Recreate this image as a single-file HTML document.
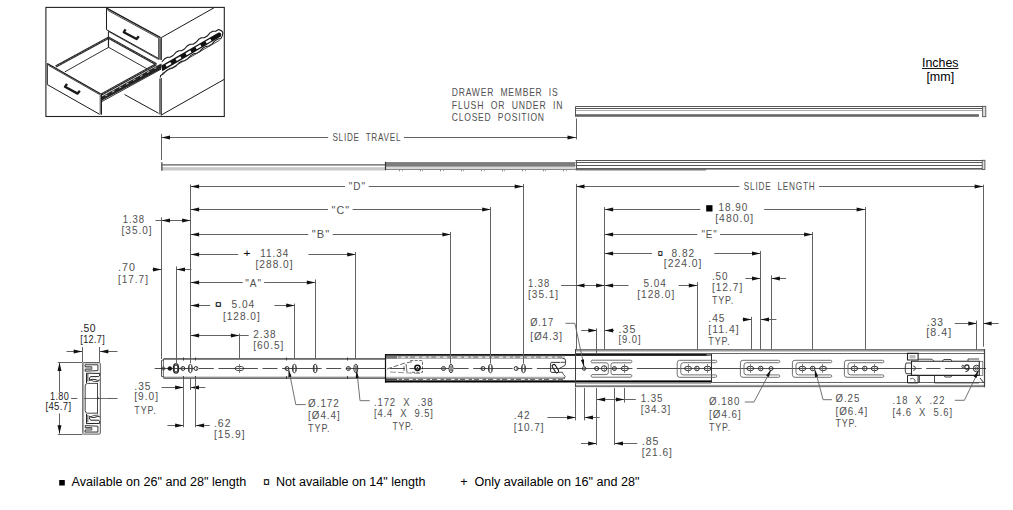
<!DOCTYPE html>
<html><head><meta charset="utf-8"><style>
html,body{margin:0;padding:0;background:#fff;}
svg{display:block;}
text{font-family:"Liberation Sans",sans-serif;white-space:pre;}
</style></head><body>
<svg width="1013" height="510" viewBox="0 0 1013 510">
<rect x="0" y="0" width="1013" height="510" fill="#fff"/>
<rect x="45.90" y="7.40" width="178.40" height="109.10" fill="none" stroke="#222" stroke-width="1.1" />
<polyline points="106.50,8.20 160.60,37.60" fill="none" stroke="#1a1a1a" stroke-width="1.4" />
<polyline points="107.60,10.30 158.80,38.20" fill="none" stroke="#1a1a1a" stroke-width="0.8" />
<polyline points="106.50,8.20 106.50,29.70" fill="none" stroke="#1a1a1a" stroke-width="1.0" />
<polyline points="106.50,29.70 158.80,58.60" fill="none" stroke="#1a1a1a" stroke-width="1.0" />
<polyline points="158.80,38.20 158.80,58.60" fill="none" stroke="#1a1a1a" stroke-width="1.0" />
<rect x="159.00" y="38.20" width="2.20" height="21.60" fill="#777" stroke="none" stroke-width="1" />
<polyline points="161.30,37.60 161.30,60.00" fill="none" stroke="#1a1a1a" stroke-width="1.0" />
<path d="M125.6,29.4 L123.8,32.2 L136.6,39.0 L138.8,36.2" fill="none" stroke="#1a1a1a" stroke-width="2.4" stroke-linejoin="round"/>
<polyline points="161.30,37.60 214.20,7.70" fill="none" stroke="#1a1a1a" stroke-width="1.0" />
<polyline points="161.30,78.00 161.30,115.50" fill="none" stroke="#1a1a1a" stroke-width="1.0" />
<rect x="159.00" y="78.50" width="2.20" height="36.00" fill="#777" stroke="none" stroke-width="1" />
<polyline points="161.30,115.00 224.30,79.30" fill="none" stroke="#1a1a1a" stroke-width="1.0" />
<polyline points="108.40,31.40 108.40,47.30" fill="none" stroke="#1a1a1a" stroke-width="1.0" />
<polyline points="108.40,31.40 158.80,59.60" fill="none" stroke="#1a1a1a" stroke-width="0.8" />
<line x1="55.80" y1="66.60" x2="108.60" y2="37.80" stroke="#1e1e1e" stroke-width="2.3" />
<line x1="55.80" y1="66.60" x2="108.60" y2="37.80" stroke="#fff" stroke-width="0.5" stroke-dasharray="0.9 0.9"/>
<line x1="108.60" y1="37.80" x2="156.30" y2="64.20" stroke="#1e1e1e" stroke-width="2.3" />
<line x1="108.60" y1="37.80" x2="156.30" y2="64.20" stroke="#fff" stroke-width="0.5" stroke-dasharray="0.9 0.9"/>
<polyline points="64.80,71.90 108.60,47.30 150.00,70.50" fill="none" stroke="#1a1a1a" stroke-width="0.9" />
<polyline points="108.60,37.20 108.60,47.30" fill="none" stroke="#1a1a1a" stroke-width="1.0" />
<line x1="101.40" y1="94.40" x2="156.30" y2="64.20" stroke="#1e1e1e" stroke-width="2.3" />
<line x1="101.40" y1="94.40" x2="156.30" y2="64.20" stroke="#fff" stroke-width="0.5" stroke-dasharray="0.9 0.9"/>
<polygon points="101.50,97.00 160.00,64.50 166.00,62.50 166.00,66.00 102.00,100.20" fill="#222" stroke="#111" stroke-width="0.6" />
<polyline points="102.00,101.50 165.00,67.00" fill="none" stroke="#1a1a1a" stroke-width="0.9" />
<rect x="105.00" y="95.65" width="2.50" height="0.80" fill="#ddd" stroke="none" stroke-width="1" transform="rotate(-29 105 95.654)"/>
<rect x="112.00" y="91.76" width="2.50" height="0.80" fill="#ddd" stroke="none" stroke-width="1" transform="rotate(-29 112 91.762)"/>
<rect x="119.00" y="87.87" width="2.50" height="0.80" fill="#ddd" stroke="none" stroke-width="1" transform="rotate(-29 119 87.86999999999999)"/>
<rect x="126.00" y="83.98" width="2.50" height="0.80" fill="#ddd" stroke="none" stroke-width="1" transform="rotate(-29 126 83.978)"/>
<rect x="133.00" y="80.09" width="2.50" height="0.80" fill="#ddd" stroke="none" stroke-width="1" transform="rotate(-29 133 80.08599999999998)"/>
<rect x="140.00" y="76.19" width="2.50" height="0.80" fill="#ddd" stroke="none" stroke-width="1" transform="rotate(-29 140 76.19399999999999)"/>
<rect x="147.00" y="72.30" width="2.50" height="0.80" fill="#ddd" stroke="none" stroke-width="1" transform="rotate(-29 147 72.30199999999999)"/>
<rect x="154.00" y="68.41" width="2.50" height="0.80" fill="#ddd" stroke="none" stroke-width="1" transform="rotate(-29 154 68.41)"/>
<polyline points="124.50,94.50 158.60,113.30" fill="none" stroke="#1a1a1a" stroke-width="1.0" />
<polyline points="47.30,63.50 100.80,94.00" fill="none" stroke="#1a1a1a" stroke-width="1.4" />
<polyline points="48.50,65.40 99.60,94.60" fill="none" stroke="#1a1a1a" stroke-width="0.8" />
<polyline points="47.30,63.50 47.30,84.60" fill="none" stroke="#1a1a1a" stroke-width="1.0" />
<polyline points="47.30,84.60 99.60,114.30" fill="none" stroke="#1a1a1a" stroke-width="1.0" />
<rect x="99.60" y="94.20" width="1.90" height="20.30" fill="#777" stroke="none" stroke-width="1" />
<polyline points="101.50,94.00 101.50,114.60" fill="none" stroke="#1a1a1a" stroke-width="1.0" />
<path d="M67.0,83.8 L65.0,86.8 L77.6,93.6 L79.8,90.8" fill="none" stroke="#1a1a1a" stroke-width="2.4" stroke-linejoin="round"/>
<path d="M161.8,62.0 L164.6,58.8 L167.5,57.2 L170.3,57.1 L173.1,55.5 L176.0,52.3 L178.8,50.7 L181.6,50.7 L184.5,49.0 L187.3,45.8 L190.2,44.2 L193.0,44.2 L195.8,42.6 L198.7,39.3 L201.5,37.7 L204.3,37.7 L207.2,36.1 L210.0,32.9 L212.8,31.2 L215.7,31.2 L218.5,29.6 Q223.2,30.5 222.8,33.5 Q222.5,36.5 220.8,38.6 L220.8,38.6 L217.8,39.0 L214.8,40.9 L211.8,44.1 L208.8,46.0 L205.8,46.4 L202.7,48.3 L199.7,51.5 L196.7,53.4 L193.7,53.8 L190.7,55.6 L187.7,58.9 L184.7,60.7 L181.7,61.2 L178.7,63.0 L175.7,66.3 L172.6,68.1 L169.6,68.6 L166.6,70.4 L163.6,73.7 L160.6,75.5 L160.3,77.5" fill="#fff" stroke="#1a1a1a" stroke-width="1.1" stroke-linejoin="round"/>
<path d="M161.4,65.4 L218.6,32.6 Q221.4,32.4 221.2,34.6 L220.8,36.4 L162.2,71.2 Z" fill="#111" stroke="none" stroke-width="1" />
<path d="M162,73.6 L219.6,40.2" fill="none" stroke="#333" stroke-width="0.9" />
<rect x="-2.8" y="-1.2" width="5.6" height="2.4" fill="#fff" transform="translate(168.5 64.4) rotate(-30)"/>
<rect x="-2.8" y="-1.2" width="5.6" height="2.4" fill="#fff" transform="translate(178.5 58.6) rotate(-30)"/>
<rect x="-2.8" y="-1.2" width="5.6" height="2.4" fill="#fff" transform="translate(188.5 52.8) rotate(-30)"/>
<rect x="-2.8" y="-1.2" width="5.6" height="2.4" fill="#fff" transform="translate(198.5 46.9) rotate(-30)"/>
<rect x="-2.8" y="-1.2" width="5.6" height="2.4" fill="#fff" transform="translate(208.5 41.1) rotate(-30)"/>
<rect x="575.70" y="106.30" width="409.80" height="10.20" fill="#fff" stroke="none" stroke-width="1" />
<line x1="575.70" y1="106.50" x2="985.50" y2="106.50" stroke="#555" stroke-width="1" />
<line x1="575.70" y1="108.50" x2="982.60" y2="108.50" stroke="#555" stroke-width="1" />
<line x1="575.70" y1="110.50" x2="982.60" y2="110.50" stroke="#aaa" stroke-width="1" />
<rect x="575.70" y="114.20" width="403.20" height="2.60" fill="#666" stroke="none" stroke-width="1" />
<line x1="575.50" y1="106.30" x2="575.50" y2="116.80" stroke="#555" stroke-width="1" />
<rect x="982.60" y="106.30" width="3.20" height="10.40" fill="#ddd" stroke="#555" stroke-width="0.9" />
<rect x="161.30" y="164.30" width="224.00" height="1.20" fill="#555" stroke="none" stroke-width="1" />
<rect x="161.30" y="167.20" width="224.00" height="3.30" fill="#c8c8c8" stroke="none" stroke-width="1" />
<rect x="161.00" y="162.30" width="1.60" height="8.40" fill="#666" stroke="none" stroke-width="1" />
<rect x="385.10" y="162.10" width="190.40" height="4.60" fill="#7c7c7c" stroke="none" stroke-width="1" />
<rect x="385.10" y="167.00" width="190.40" height="2.60" fill="#d8d8d8" stroke="none" stroke-width="1" />
<line x1="385.10" y1="169.50" x2="575.50" y2="169.50" stroke="#888" stroke-width="1" />
<line x1="385.50" y1="161.80" x2="385.50" y2="170.20" stroke="#333" stroke-width="1.2" />
<rect x="575.60" y="160.10" width="409.00" height="9.60" fill="#fff" stroke="none" stroke-width="1" />
<line x1="575.60" y1="160.50" x2="984.60" y2="160.50" stroke="#555" stroke-width="1" />
<line x1="575.60" y1="162.50" x2="982.20" y2="162.50" stroke="#5a5a5a" stroke-width="1" />
<line x1="575.60" y1="165.50" x2="982.20" y2="165.50" stroke="#5a5a5a" stroke-width="1" />
<rect x="575.60" y="168.00" width="409.00" height="1.60" fill="#606060" stroke="none" stroke-width="1" />
<rect x="575.60" y="169.40" width="130.50" height="1.00" fill="#555" stroke="none" stroke-width="1" />
<line x1="576.50" y1="160.10" x2="576.50" y2="169.90" stroke="#555" stroke-width="1" />
<rect x="982.20" y="160.30" width="2.70" height="9.20" fill="#ddd" stroke="#555" stroke-width="0.9" />
<line x1="399.50" y1="169.80" x2="399.50" y2="171.30" stroke="#888" stroke-width="1" />
<line x1="402.50" y1="169.80" x2="402.50" y2="171.30" stroke="#aaa" stroke-width="1" />
<line x1="420.50" y1="169.80" x2="420.50" y2="171.30" stroke="#888" stroke-width="1" />
<line x1="422.50" y1="169.80" x2="422.50" y2="171.30" stroke="#aaa" stroke-width="1" />
<line x1="440.50" y1="169.80" x2="440.50" y2="171.30" stroke="#888" stroke-width="1" />
<line x1="443.50" y1="169.80" x2="443.50" y2="171.30" stroke="#aaa" stroke-width="1" />
<line x1="461.50" y1="169.80" x2="461.50" y2="171.30" stroke="#888" stroke-width="1" />
<line x1="463.50" y1="169.80" x2="463.50" y2="171.30" stroke="#aaa" stroke-width="1" />
<line x1="481.50" y1="169.80" x2="481.50" y2="171.30" stroke="#888" stroke-width="1" />
<line x1="484.50" y1="169.80" x2="484.50" y2="171.30" stroke="#aaa" stroke-width="1" />
<line x1="502.50" y1="169.80" x2="502.50" y2="171.30" stroke="#888" stroke-width="1" />
<line x1="504.50" y1="169.80" x2="504.50" y2="171.30" stroke="#aaa" stroke-width="1" />
<line x1="522.50" y1="169.80" x2="522.50" y2="171.30" stroke="#888" stroke-width="1" />
<line x1="525.50" y1="169.80" x2="525.50" y2="171.30" stroke="#aaa" stroke-width="1" />
<line x1="543.50" y1="169.80" x2="543.50" y2="171.30" stroke="#888" stroke-width="1" />
<line x1="545.50" y1="169.80" x2="545.50" y2="171.30" stroke="#aaa" stroke-width="1" />
<line x1="563.50" y1="169.80" x2="563.50" y2="171.30" stroke="#888" stroke-width="1" />
<line x1="566.50" y1="169.80" x2="566.50" y2="171.30" stroke="#aaa" stroke-width="1" />
<rect x="163.40" y="358.00" width="222.00" height="1.80" fill="#6a6a6a" stroke="none" stroke-width="1" />
<defs><linearGradient id="gb" x1="0" y1="0" x2="0" y2="1"><stop offset="0" stop-color="#d0d0d0"/><stop offset="0.5" stop-color="#8a8a8a"/><stop offset="1" stop-color="#505050"/></linearGradient><linearGradient id="gt" x1="0" y1="0" x2="0" y2="1"><stop offset="0" stop-color="#505050"/><stop offset="1" stop-color="#b0b0b0"/></linearGradient></defs>
<rect x="163.40" y="376.30" width="222.00" height="2.60" fill="url(#gb)" stroke="none" stroke-width="1" />
<path d="M164.2,359.6 L161.6,360.4 L161.6,376.4 L164.2,377.2" fill="none" stroke="#444" stroke-width="1.0" />
<line x1="163.50" y1="359.50" x2="163.50" y2="377.00" stroke="#555" stroke-width="0.8" />
<rect x="385.00" y="354.10" width="326.00" height="1.70" fill="#000" stroke="none" stroke-width="1" />
<rect x="385.00" y="380.40" width="326.00" height="2.10" fill="#000" stroke="none" stroke-width="1" />
<rect x="385.00" y="355.80" width="180.00" height="3.00" fill="#9a9a9a" stroke="none" stroke-width="1" />
<rect x="385.00" y="376.60" width="180.00" height="3.80" fill="url(#gb)" stroke="none" stroke-width="1" />
<rect x="387.00" y="356.60" width="2.20" height="1.10" fill="#fff" stroke="none" stroke-width="1" />
<rect x="388.00" y="378.90" width="2.00" height="1.00" fill="#fff" stroke="none" stroke-width="1" />
<rect x="394.00" y="356.60" width="4.20" height="1.10" fill="#fff" stroke="none" stroke-width="1" />
<rect x="395.00" y="378.90" width="3.60" height="1.00" fill="#fff" stroke="none" stroke-width="1" />
<rect x="401.00" y="356.60" width="4.20" height="1.10" fill="#fff" stroke="none" stroke-width="1" />
<rect x="402.00" y="378.90" width="2.00" height="1.00" fill="#fff" stroke="none" stroke-width="1" />
<rect x="408.00" y="356.60" width="2.20" height="1.10" fill="#fff" stroke="none" stroke-width="1" />
<rect x="409.00" y="378.90" width="3.60" height="1.00" fill="#fff" stroke="none" stroke-width="1" />
<rect x="415.00" y="356.60" width="4.20" height="1.10" fill="#fff" stroke="none" stroke-width="1" />
<rect x="416.00" y="378.90" width="2.00" height="1.00" fill="#fff" stroke="none" stroke-width="1" />
<rect x="422.00" y="356.60" width="4.20" height="1.10" fill="#fff" stroke="none" stroke-width="1" />
<rect x="423.00" y="378.90" width="3.60" height="1.00" fill="#fff" stroke="none" stroke-width="1" />
<rect x="429.00" y="356.60" width="2.20" height="1.10" fill="#fff" stroke="none" stroke-width="1" />
<rect x="430.00" y="378.90" width="2.00" height="1.00" fill="#fff" stroke="none" stroke-width="1" />
<rect x="436.00" y="356.60" width="4.20" height="1.10" fill="#fff" stroke="none" stroke-width="1" />
<rect x="437.00" y="378.90" width="3.60" height="1.00" fill="#fff" stroke="none" stroke-width="1" />
<rect x="443.00" y="356.60" width="4.20" height="1.10" fill="#fff" stroke="none" stroke-width="1" />
<rect x="444.00" y="378.90" width="2.00" height="1.00" fill="#fff" stroke="none" stroke-width="1" />
<rect x="450.00" y="356.60" width="2.20" height="1.10" fill="#fff" stroke="none" stroke-width="1" />
<rect x="451.00" y="378.90" width="3.60" height="1.00" fill="#fff" stroke="none" stroke-width="1" />
<rect x="457.00" y="356.60" width="4.20" height="1.10" fill="#fff" stroke="none" stroke-width="1" />
<rect x="458.00" y="378.90" width="2.00" height="1.00" fill="#fff" stroke="none" stroke-width="1" />
<rect x="464.00" y="356.60" width="4.20" height="1.10" fill="#fff" stroke="none" stroke-width="1" />
<rect x="465.00" y="378.90" width="3.60" height="1.00" fill="#fff" stroke="none" stroke-width="1" />
<rect x="471.00" y="356.60" width="2.20" height="1.10" fill="#fff" stroke="none" stroke-width="1" />
<rect x="472.00" y="378.90" width="2.00" height="1.00" fill="#fff" stroke="none" stroke-width="1" />
<rect x="478.00" y="356.60" width="4.20" height="1.10" fill="#fff" stroke="none" stroke-width="1" />
<rect x="479.00" y="378.90" width="3.60" height="1.00" fill="#fff" stroke="none" stroke-width="1" />
<rect x="485.00" y="356.60" width="4.20" height="1.10" fill="#fff" stroke="none" stroke-width="1" />
<rect x="486.00" y="378.90" width="2.00" height="1.00" fill="#fff" stroke="none" stroke-width="1" />
<rect x="492.00" y="356.60" width="2.20" height="1.10" fill="#fff" stroke="none" stroke-width="1" />
<rect x="493.00" y="378.90" width="3.60" height="1.00" fill="#fff" stroke="none" stroke-width="1" />
<rect x="499.00" y="356.60" width="4.20" height="1.10" fill="#fff" stroke="none" stroke-width="1" />
<rect x="500.00" y="378.90" width="2.00" height="1.00" fill="#fff" stroke="none" stroke-width="1" />
<rect x="506.00" y="356.60" width="4.20" height="1.10" fill="#fff" stroke="none" stroke-width="1" />
<rect x="507.00" y="378.90" width="3.60" height="1.00" fill="#fff" stroke="none" stroke-width="1" />
<rect x="513.00" y="356.60" width="2.20" height="1.10" fill="#fff" stroke="none" stroke-width="1" />
<rect x="514.00" y="378.90" width="2.00" height="1.00" fill="#fff" stroke="none" stroke-width="1" />
<rect x="520.00" y="356.60" width="4.20" height="1.10" fill="#fff" stroke="none" stroke-width="1" />
<rect x="521.00" y="378.90" width="3.60" height="1.00" fill="#fff" stroke="none" stroke-width="1" />
<rect x="527.00" y="356.60" width="4.20" height="1.10" fill="#fff" stroke="none" stroke-width="1" />
<rect x="528.00" y="378.90" width="2.00" height="1.00" fill="#fff" stroke="none" stroke-width="1" />
<rect x="534.00" y="356.60" width="2.20" height="1.10" fill="#fff" stroke="none" stroke-width="1" />
<rect x="535.00" y="378.90" width="3.60" height="1.00" fill="#fff" stroke="none" stroke-width="1" />
<rect x="541.00" y="356.60" width="4.20" height="1.10" fill="#fff" stroke="none" stroke-width="1" />
<rect x="542.00" y="378.90" width="2.00" height="1.00" fill="#fff" stroke="none" stroke-width="1" />
<rect x="548.00" y="356.60" width="4.20" height="1.10" fill="#fff" stroke="none" stroke-width="1" />
<rect x="549.00" y="378.90" width="3.60" height="1.00" fill="#fff" stroke="none" stroke-width="1" />
<rect x="555.00" y="356.60" width="2.20" height="1.10" fill="#fff" stroke="none" stroke-width="1" />
<rect x="556.00" y="378.90" width="2.00" height="1.00" fill="#fff" stroke="none" stroke-width="1" />
<rect x="562.00" y="356.60" width="4.20" height="1.10" fill="#fff" stroke="none" stroke-width="1" />
<rect x="563.00" y="378.90" width="3.60" height="1.00" fill="#fff" stroke="none" stroke-width="1" />
<rect x="385.00" y="355.80" width="12.00" height="2.80" fill="#777" stroke="none" stroke-width="1" />
<rect x="385.00" y="378.80" width="12.00" height="1.40" fill="#444" stroke="none" stroke-width="1" />
<line x1="385.50" y1="354.00" x2="385.50" y2="382.60" stroke="#111" stroke-width="1.2" />
<path d="M562.5,358.2 Q566,358.6 565.7,361 L565.2,365.3 L559,368.6 M560.5,362.4 L565.4,362.2" fill="none" stroke="#333" stroke-width="0.9" />
<path d="M560,362.4 L551.8,362.4 Q550.6,362.4 550.6,363.6 L550.6,371.2 Q550.6,372.4 551.8,372.4 L556,372.4" fill="none" stroke="#222" stroke-width="0.9" />
<rect x="-4.6" y="-1.7" width="9.2" height="3.4" rx="1.7" fill="#fff" stroke="#1a1a1a" stroke-width="1.1" transform="translate(555.4 368.6) rotate(58)"/>
<path d="M558.5,372.6 L562.3,372.1 L563.3,374.3 L565.2,376.4 L564.2,378.4" fill="none" stroke="#444" stroke-width="0.9" />
<rect x="706.50" y="354.10" width="4.80" height="1.70" fill="#888" stroke="none" stroke-width="1" />
<line x1="711.50" y1="353.10" x2="711.50" y2="382.90" stroke="#333" stroke-width="1" />
<path d="M387,369 L405,363 L414,361.5" fill="none" stroke="#444" stroke-width="0.8" stroke-dasharray="5 2"/>
<path d="M390,372 L420,373.5" fill="none" stroke="#777" stroke-width="0.8" stroke-dasharray="6 2"/>
<path d="M410.2,360.6 L422.5,360.6 L422.5,372.3 L410.2,372.3" fill="none" stroke="#444" stroke-width="0.8" stroke-dasharray="3 1.5"/>
<circle cx="417.5" cy="367.8" r="2.6" fill="none" stroke="#111" stroke-width="1.6"/>
<circle cx="417.5" cy="367.8" r="0.7" fill="#111"/>
<path d="M406,364 L407,372 M404,366 L404,371" fill="none" stroke="#444" stroke-width="0.8" />
<rect x="575.50" y="349.10" width="409.00" height="2.40" fill="#9a9a9a" stroke="none" stroke-width="1" />
<line x1="575.50" y1="349.50" x2="985.00" y2="349.50" stroke="#777" stroke-width="1" />
<line x1="575.50" y1="353.50" x2="985.00" y2="353.50" stroke="#555" stroke-width="0.9" />
<line x1="711.00" y1="382.50" x2="985.00" y2="382.50" stroke="#555" stroke-width="0.9" />
<rect x="575.50" y="384.90" width="409.00" height="2.30" fill="#9a9a9a" stroke="none" stroke-width="1" />
<line x1="575.50" y1="386.50" x2="985.00" y2="386.50" stroke="#777" stroke-width="1" />
<line x1="575.50" y1="349.00" x2="575.50" y2="387.30" stroke="#444" stroke-width="1" />
<line x1="984.50" y1="349.00" x2="984.50" y2="387.30" stroke="#444" stroke-width="1.2" />
<line x1="575.50" y1="383.50" x2="711.00" y2="383.50" stroke="#999" stroke-width="0.8" />
<line x1="154.70" y1="368.50" x2="575.50" y2="368.50" stroke="#222" stroke-width="0.8" stroke-dasharray="39.5 4.6 15 4.6"/>
<line x1="575.50" y1="368.50" x2="632.40" y2="368.50" stroke="#222" stroke-width="0.8" />
<line x1="636.80" y1="368.50" x2="921.70" y2="368.50" stroke="#222" stroke-width="0.8" />
<line x1="926.20" y1="368.50" x2="940.50" y2="368.50" stroke="#222" stroke-width="0.8" />
<line x1="944.90" y1="368.50" x2="986.00" y2="368.50" stroke="#222" stroke-width="0.8" />
<circle cx="163.40" cy="368.50" r="1.6" fill="none" stroke="#222" stroke-width="0.7"/>
<circle cx="169.80" cy="368.50" r="2.0" fill="#111" stroke="#222" stroke-width="0.5"/>
<ellipse cx="176.00" cy="368.50" rx="2.6" ry="4.6" fill="none" stroke="#222" stroke-width="1.3"/>
<rect x="174.60" y="365.50" width="2.80" height="6.00" fill="none" stroke="#333" stroke-width="0.8" />
<circle cx="182.90" cy="368.50" r="2.0" fill="none" stroke="#222" stroke-width="0.9"/>
<line x1="182.50" y1="365.90" x2="182.50" y2="371.10" stroke="#626262" stroke-width="0.6" />
<ellipse cx="190.30" cy="368.50" rx="2.0" ry="4.3" fill="none" stroke="#222" stroke-width="0.9"/>
<line x1="189.50" y1="365.50" x2="189.50" y2="371.50" stroke="#444" stroke-width="0.6" />
<line x1="191.50" y1="365.50" x2="191.50" y2="371.50" stroke="#444" stroke-width="0.6" />
<circle cx="196.00" cy="368.50" r="2.0" fill="none" stroke="#222" stroke-width="0.9"/>
<line x1="196.50" y1="365.90" x2="196.50" y2="371.10" stroke="#626262" stroke-width="0.6" />
<ellipse cx="239.40" cy="368.50" rx="4.3" ry="2.1" fill="none" stroke="#222" stroke-width="0.9"/>
<line x1="239.50" y1="364.00" x2="239.50" y2="373.00" stroke="#626262" stroke-width="0.8" />
<circle cx="287.00" cy="368.50" r="2.0" fill="none" stroke="#222" stroke-width="0.9"/>
<line x1="286.50" y1="365.90" x2="286.50" y2="371.10" stroke="#626262" stroke-width="0.6" />
<ellipse cx="294.40" cy="368.50" rx="2.0" ry="4.3" fill="none" stroke="#222" stroke-width="0.9"/>
<line x1="293.50" y1="365.50" x2="293.50" y2="371.50" stroke="#444" stroke-width="0.6" />
<line x1="295.50" y1="365.50" x2="295.50" y2="371.50" stroke="#444" stroke-width="0.6" />
<ellipse cx="315.20" cy="368.50" rx="2.0" ry="4.3" fill="none" stroke="#222" stroke-width="0.9"/>
<line x1="314.50" y1="365.50" x2="314.50" y2="371.50" stroke="#444" stroke-width="0.6" />
<line x1="316.50" y1="365.50" x2="316.50" y2="371.50" stroke="#444" stroke-width="0.6" />
<circle cx="348.40" cy="368.50" r="2.0" fill="none" stroke="#222" stroke-width="0.9"/>
<line x1="348.50" y1="365.90" x2="348.50" y2="371.10" stroke="#626262" stroke-width="0.6" />
<ellipse cx="355.80" cy="368.50" rx="2.0" ry="4.3" fill="none" stroke="#222" stroke-width="0.9"/>
<line x1="355.50" y1="365.50" x2="355.50" y2="371.50" stroke="#444" stroke-width="0.6" />
<line x1="356.50" y1="365.50" x2="356.50" y2="371.50" stroke="#444" stroke-width="0.6" />
<circle cx="443.50" cy="368.50" r="2.0" fill="none" stroke="#222" stroke-width="0.9"/>
<line x1="443.50" y1="365.90" x2="443.50" y2="371.10" stroke="#626262" stroke-width="0.6" />
<ellipse cx="451.00" cy="368.50" rx="2.0" ry="4.3" fill="none" stroke="#222" stroke-width="0.9"/>
<line x1="450.50" y1="365.50" x2="450.50" y2="371.50" stroke="#444" stroke-width="0.6" />
<line x1="451.50" y1="365.50" x2="451.50" y2="371.50" stroke="#444" stroke-width="0.6" />
<circle cx="483.00" cy="368.50" r="2.0" fill="none" stroke="#222" stroke-width="0.9"/>
<line x1="482.50" y1="365.90" x2="482.50" y2="371.10" stroke="#626262" stroke-width="0.6" />
<ellipse cx="490.40" cy="368.50" rx="2.0" ry="4.3" fill="none" stroke="#222" stroke-width="0.9"/>
<line x1="489.50" y1="365.50" x2="489.50" y2="371.50" stroke="#444" stroke-width="0.6" />
<line x1="491.50" y1="365.50" x2="491.50" y2="371.50" stroke="#444" stroke-width="0.6" />
<circle cx="516.10" cy="368.50" r="2.0" fill="none" stroke="#222" stroke-width="0.9"/>
<line x1="516.50" y1="365.90" x2="516.50" y2="371.10" stroke="#626262" stroke-width="0.6" />
<ellipse cx="523.50" cy="368.50" rx="2.0" ry="4.3" fill="none" stroke="#222" stroke-width="0.9"/>
<line x1="522.50" y1="365.50" x2="522.50" y2="371.50" stroke="#444" stroke-width="0.6" />
<line x1="524.50" y1="365.50" x2="524.50" y2="371.50" stroke="#444" stroke-width="0.6" />
<line x1="183.50" y1="357.50" x2="183.50" y2="360.50" stroke="#333" stroke-width="0.9" />
<line x1="183.50" y1="376.00" x2="183.50" y2="379.00" stroke="#333" stroke-width="0.9" />
<line x1="195.50" y1="357.50" x2="195.50" y2="360.50" stroke="#333" stroke-width="0.9" />
<line x1="195.50" y1="376.00" x2="195.50" y2="379.00" stroke="#333" stroke-width="0.9" />
<line x1="286.50" y1="357.50" x2="286.50" y2="360.50" stroke="#333" stroke-width="0.9" />
<line x1="286.50" y1="376.00" x2="286.50" y2="379.00" stroke="#333" stroke-width="0.9" />
<line x1="347.50" y1="357.50" x2="347.50" y2="360.50" stroke="#333" stroke-width="0.9" />
<line x1="347.50" y1="376.00" x2="347.50" y2="379.00" stroke="#333" stroke-width="0.9" />
<line x1="176.50" y1="359.00" x2="176.50" y2="363.00" stroke="#555" stroke-width="0.9" />
<line x1="190.50" y1="359.00" x2="190.50" y2="363.00" stroke="#555" stroke-width="0.9" />
<path d="M715.5,360.3 L679.7,360.3 Q677.2,360.3 677.2,362.8 L677.2,374.8 Q677.2,377.3 679.7,377.3 L715.5,377.3" fill="none" stroke="#626262" stroke-width="0.9" />
<path d="M715.5,362.7 L683.3000000000001,362.7 Q680.8000000000001,362.7 680.8000000000001,365.2 L680.8000000000001,372.40000000000003 Q680.8000000000001,374.90000000000003 683.3000000000001,374.90000000000003 L715.5,374.90000000000003" fill="none" stroke="#626262" stroke-width="0.9" />
<path d="M715.5,360.3 A1.2,1.2 0 0 1 715.5,362.7 M715.5,374.90000000000003 A1.2,1.2 0 0 1 715.5,377.3" fill="none" stroke="#626262" stroke-width="0.9" />
<path d="M778.6,360.3 L742.9,360.3 Q740.4,360.3 740.4,362.8 L740.4,374.8 Q740.4,377.3 742.9,377.3 L778.6,377.3" fill="none" stroke="#626262" stroke-width="0.9" />
<path d="M778.6,362.7 L746.5,362.7 Q744.0,362.7 744.0,365.2 L744.0,372.40000000000003 Q744.0,374.90000000000003 746.5,374.90000000000003 L778.6,374.90000000000003" fill="none" stroke="#626262" stroke-width="0.9" />
<path d="M778.6,360.3 A1.2,1.2 0 0 1 778.6,362.7 M778.6,374.90000000000003 A1.2,1.2 0 0 1 778.6,377.3" fill="none" stroke="#626262" stroke-width="0.9" />
<path d="M830.6,360.3 L794.9,360.3 Q792.4,360.3 792.4,362.8 L792.4,374.8 Q792.4,377.3 794.9,377.3 L830.6,377.3" fill="none" stroke="#626262" stroke-width="0.9" />
<path d="M830.6,362.7 L798.5,362.7 Q796.0,362.7 796.0,365.2 L796.0,372.40000000000003 Q796.0,374.90000000000003 798.5,374.90000000000003 L830.6,374.90000000000003" fill="none" stroke="#626262" stroke-width="0.9" />
<path d="M830.6,360.3 A1.2,1.2 0 0 1 830.6,362.7 M830.6,374.90000000000003 A1.2,1.2 0 0 1 830.6,377.3" fill="none" stroke="#626262" stroke-width="0.9" />
<path d="M882.7,360.3 L846.9,360.3 Q844.4,360.3 844.4,362.8 L844.4,374.8 Q844.4,377.3 846.9,377.3 L882.7,377.3" fill="none" stroke="#626262" stroke-width="0.9" />
<path d="M882.7,362.7 L850.5,362.7 Q848.0,362.7 848.0,365.2 L848.0,372.40000000000003 Q848.0,374.90000000000003 850.5,374.90000000000003 L882.7,374.90000000000003" fill="none" stroke="#626262" stroke-width="0.9" />
<path d="M882.7,360.3 A1.2,1.2 0 0 1 882.7,362.7 M882.7,374.90000000000003 A1.2,1.2 0 0 1 882.7,377.3" fill="none" stroke="#626262" stroke-width="0.9" />
<path d="M592,360.2 L631,360.2 A1.4,1.4 0 0 1 631,362.8 L613,362.8 Q611,362.8 611,364.8 L611,372.59999999999997 Q611,374.59999999999997 613,374.59999999999997 L631,374.59999999999997 A1.4,1.4 0 0 1 631,377.2 L592,377.2 A1.4,1.4 0 0 1 592,374.59999999999997 L606,374.59999999999997 Q608.3,374.59999999999997 608.3,372.59999999999997 L608.3,364.8 Q608.3,362.8 606,362.8 L592,362.8 A1.4,1.4 0 0 1 592,360.2 Z" fill="none" stroke="#626262" stroke-width="0.9" />
<circle cx="584.10" cy="368.50" r="1.8" fill="none" stroke="#222" stroke-width="0.9"/>
<line x1="584.50" y1="365.90" x2="584.50" y2="371.10" stroke="#626262" stroke-width="0.6" />
<circle cx="596.70" cy="368.50" r="2.0" fill="none" stroke="#222" stroke-width="1.0"/>
<circle cx="604.10" cy="368.50" r="2.7" fill="none" stroke="#222" stroke-width="0.9"/>
<line x1="604.50" y1="365.00" x2="604.50" y2="372.00" stroke="#626262" stroke-width="0.6" />
<circle cx="614.40" cy="368.50" r="2.0" fill="none" stroke="#222" stroke-width="0.9"/>
<line x1="614.50" y1="365.90" x2="614.50" y2="371.10" stroke="#626262" stroke-width="0.6" />
<ellipse cx="624.80" cy="368.50" rx="3.6" ry="2.3" fill="none" stroke="#222" stroke-width="0.9"/>
<line x1="624.50" y1="364.00" x2="624.50" y2="373.00" stroke="#626262" stroke-width="0.8" />
<ellipse cx="688.10" cy="368.50" rx="3.5" ry="2.2" fill="none" stroke="#222" stroke-width="0.9"/>
<line x1="688.50" y1="364.00" x2="688.50" y2="373.00" stroke="#626262" stroke-width="0.8" />
<circle cx="696.90" cy="368.50" r="2.3" fill="none" stroke="#222" stroke-width="0.9"/>
<line x1="696.50" y1="366.20" x2="696.50" y2="370.80" stroke="#626262" stroke-width="0.6" />
<ellipse cx="707.50" cy="368.50" rx="3.5" ry="2.2" fill="none" stroke="#222" stroke-width="0.9"/>
<line x1="707.50" y1="364.00" x2="707.50" y2="373.00" stroke="#626262" stroke-width="0.8" />
<ellipse cx="750.30" cy="368.50" rx="3.5" ry="2.2" fill="none" stroke="#222" stroke-width="0.9"/>
<line x1="750.50" y1="364.00" x2="750.50" y2="373.00" stroke="#626262" stroke-width="0.8" />
<circle cx="760.70" cy="368.50" r="2.3" fill="none" stroke="#222" stroke-width="0.9"/>
<line x1="760.50" y1="366.20" x2="760.50" y2="370.80" stroke="#626262" stroke-width="0.6" />
<ellipse cx="802.30" cy="368.50" rx="3.5" ry="2.2" fill="none" stroke="#222" stroke-width="0.9"/>
<line x1="802.50" y1="364.00" x2="802.50" y2="373.00" stroke="#626262" stroke-width="0.8" />
<circle cx="812.70" cy="368.50" r="2.3" fill="none" stroke="#222" stroke-width="0.9"/>
<line x1="812.50" y1="366.20" x2="812.50" y2="370.80" stroke="#626262" stroke-width="0.6" />
<ellipse cx="823.00" cy="368.50" rx="3.5" ry="2.2" fill="none" stroke="#222" stroke-width="0.9"/>
<line x1="822.50" y1="364.00" x2="822.50" y2="373.00" stroke="#626262" stroke-width="0.8" />
<ellipse cx="854.40" cy="368.50" rx="3.5" ry="2.2" fill="none" stroke="#222" stroke-width="0.9"/>
<line x1="854.50" y1="364.00" x2="854.50" y2="373.00" stroke="#626262" stroke-width="0.8" />
<circle cx="864.80" cy="368.50" r="2.3" fill="none" stroke="#222" stroke-width="0.9"/>
<line x1="864.50" y1="366.20" x2="864.50" y2="370.80" stroke="#626262" stroke-width="0.6" />
<ellipse cx="874.60" cy="368.50" rx="3.5" ry="2.2" fill="none" stroke="#222" stroke-width="0.9"/>
<line x1="874.50" y1="364.00" x2="874.50" y2="373.00" stroke="#626262" stroke-width="0.8" />
<circle cx="771.00" cy="368.50" r="2.0" fill="none" stroke="#222" stroke-width="0.9"/>
<path d="M907.5,353.4 L918.1,353.4 L918.1,360 L907.5,360 Z" fill="none" stroke="#222" stroke-width="1.1" />
<rect x="909.50" y="355.00" width="6.00" height="3.50" fill="#bbb" stroke="none" stroke-width="1" />
<path d="M911.5,361.3 L979.3,361.3 L979.3,375.4 L911.5,375.4 Z" fill="none" stroke="#222" stroke-width="1.1" />
<path d="M911.5,363 L906,363 L905.3,366 L905.3,371 L906,373.7 L911.5,373.7" fill="none" stroke="#333" stroke-width="0.9" />
<path d="M913.2,366 A2.2,2.2 0 0 1 913.2,370.4" fill="none" stroke="#333" stroke-width="0.9" />
<path d="M907.5,375.4 L918.1,375.4 L918.1,382.9 L907.5,382.9 Z" fill="none" stroke="#222" stroke-width="1.0" />
<path d="M910,379 Q913,377 915,380 L915,382" fill="none" stroke="#555" stroke-width="0.9" />
<path d="M918.1,359.2 L932,359.2 L934,361.3 M942,361.3 L944,359.5 L951,359.5 L952,361.3 M968,361.3 L968,359 L979,359" fill="none" stroke="#333" stroke-width="0.9" />
<path d="M919.4,375.4 L919.4,382.9 M934.5,375.4 L934.5,382.9 L979,382.9 M944,375.4 L945,377 L951,377 L952,375.4" fill="none" stroke="#333" stroke-width="0.9" />
<circle cx="976.60" cy="368.50" r="3.3" fill="none" stroke="#222" stroke-width="0.9"/>
<circle cx="976.60" cy="368.50" r="1.6" fill="none" stroke="#222" stroke-width="0.7"/>
<circle cx="962.90" cy="366.40" r="1.1" fill="none" stroke="#222" stroke-width="0.8"/>
<circle cx="966.90" cy="367.00" r="2.1" fill="none" stroke="#222" stroke-width="1.1"/>
<path d="M969,367.4 Q969.2,371.2 965.6,371.6" fill="none" stroke="#222" stroke-width="1.1" />
<rect x="979.30" y="361.30" width="3.50" height="14.00" fill="none" stroke="#555" stroke-width="0.7" />
<path d="M980,378 L984,383" fill="none" stroke="#333" stroke-width="1" />
<text x="922.00" y="67.00" font-size="12.5" fill="#000" text-anchor="start" textLength="36.5" lengthAdjust="spacingAndGlyphs" >Inches</text>
<line x1="922.00" y1="68.50" x2="958.50" y2="68.50" stroke="#000" stroke-width="0.9" />
<text x="926.40" y="80.60" font-size="12.5" fill="#000" text-anchor="start" textLength="27.8" lengthAdjust="spacingAndGlyphs" >[mm]</text>
<text x="451.80" y="95.90" font-size="10.8" fill="#505050" text-anchor="start" textLength="106.7" lengthAdjust="spacingAndGlyphs" style="letter-spacing:1.0px">DRAWER  MEMBER  IS</text>
<text x="451.80" y="108.70" font-size="10.8" fill="#505050" text-anchor="start" textLength="111.4" lengthAdjust="spacingAndGlyphs" style="letter-spacing:1.0px">FLUSH  OR  UNDER  IN</text>
<text x="451.80" y="120.90" font-size="10.8" fill="#505050" text-anchor="start" textLength="93.0" lengthAdjust="spacingAndGlyphs" style="letter-spacing:1.0px">CLOSED  POSITION</text>
<line x1="161.50" y1="133.80" x2="161.50" y2="160.00" stroke="#626262" stroke-width="1" />
<line x1="161.50" y1="137.50" x2="328.20" y2="137.50" stroke="#626262" stroke-width="1" />
<line x1="404.00" y1="137.50" x2="576.00" y2="137.50" stroke="#626262" stroke-width="1" />
<polygon points="161.50,137.50 170.00,135.50 170.00,139.50" fill="#111" stroke="none" stroke-width="1" />
<polygon points="576.00,137.50 567.50,135.50 567.50,139.50" fill="#111" stroke="none" stroke-width="1" />
<text x="332.40" y="141.00" font-size="10.8" fill="#505050" text-anchor="start" textLength="68.9" lengthAdjust="spacingAndGlyphs" style="letter-spacing:1.0px">SLIDE  TRAVEL</text>
<line x1="576.50" y1="118.50" x2="576.50" y2="139.40" stroke="#626262" stroke-width="1" />
<line x1="190.50" y1="184.40" x2="190.50" y2="359.00" stroke="#626262" stroke-width="1" />
<line x1="190.60" y1="186.50" x2="345.00" y2="186.50" stroke="#626262" stroke-width="1" />
<line x1="368.70" y1="186.50" x2="523.20" y2="186.50" stroke="#626262" stroke-width="1" />
<polygon points="190.60,186.50 199.10,184.50 199.10,188.50" fill="#111" stroke="none" stroke-width="1" />
<polygon points="523.20,186.50 514.70,184.50 514.70,188.50" fill="#111" stroke="none" stroke-width="1" />
<text x="348.80" y="190.40" font-size="10.3" fill="#505050" text-anchor="start" textLength="17.1" lengthAdjust="spacingAndGlyphs" style="letter-spacing:1.0px">&quot;D&quot;</text>
<line x1="523.50" y1="184.00" x2="523.50" y2="363.50" stroke="#626262" stroke-width="1" />
<line x1="190.60" y1="209.50" x2="328.00" y2="209.50" stroke="#626262" stroke-width="1" />
<line x1="352.60" y1="209.50" x2="490.70" y2="209.50" stroke="#626262" stroke-width="1" />
<polygon points="190.60,209.50 199.10,207.50 199.10,211.50" fill="#111" stroke="none" stroke-width="1" />
<polygon points="490.70,209.50 482.20,207.50 482.20,211.50" fill="#111" stroke="none" stroke-width="1" />
<text x="331.50" y="213.60" font-size="10.3" fill="#505050" text-anchor="start" textLength="18.6" lengthAdjust="spacingAndGlyphs" style="letter-spacing:1.0px">&quot;C&quot;</text>
<line x1="490.50" y1="207.00" x2="490.50" y2="363.50" stroke="#626262" stroke-width="1" />
<line x1="190.60" y1="234.50" x2="308.30" y2="234.50" stroke="#626262" stroke-width="1" />
<line x1="332.70" y1="234.50" x2="450.90" y2="234.50" stroke="#626262" stroke-width="1" />
<polygon points="190.60,234.50 199.10,232.50 199.10,236.50" fill="#111" stroke="none" stroke-width="1" />
<polygon points="450.90,234.50 442.40,232.50 442.40,236.50" fill="#111" stroke="none" stroke-width="1" />
<text x="311.80" y="238.30" font-size="10.3" fill="#505050" text-anchor="start" textLength="18.6" lengthAdjust="spacingAndGlyphs" style="letter-spacing:1.0px">&quot;B&quot;</text>
<line x1="450.50" y1="231.90" x2="450.50" y2="363.50" stroke="#626262" stroke-width="1" />
<line x1="190.60" y1="254.50" x2="238.20" y2="254.50" stroke="#626262" stroke-width="1" />
<line x1="308.50" y1="254.50" x2="355.70" y2="254.50" stroke="#626262" stroke-width="1" />
<polygon points="190.60,254.50 199.10,252.50 199.10,256.50" fill="#111" stroke="none" stroke-width="1" />
<polygon points="355.70,254.50 347.20,252.50 347.20,256.50" fill="#111" stroke="none" stroke-width="1" />
<text x="243.40" y="256.80" font-size="10.3" fill="#000" text-anchor="start" textLength="8.2" lengthAdjust="spacingAndGlyphs" style="letter-spacing:1.0px">+</text>
<text x="260.20" y="256.80" font-size="10.3" fill="#505050" text-anchor="start" textLength="29.0" lengthAdjust="spacingAndGlyphs" style="letter-spacing:1.0px">11.34</text>
<text x="255.50" y="268.40" font-size="10.3" fill="#505050" text-anchor="start" textLength="38.1" lengthAdjust="spacingAndGlyphs" style="letter-spacing:1.0px">[288.0]</text>
<line x1="355.50" y1="252.00" x2="355.50" y2="359.00" stroke="#626262" stroke-width="1" />
<line x1="190.60" y1="282.50" x2="242.80" y2="282.50" stroke="#626262" stroke-width="1" />
<line x1="264.10" y1="282.50" x2="315.30" y2="282.50" stroke="#626262" stroke-width="1" />
<polygon points="190.60,282.50 199.10,280.50 199.10,284.50" fill="#111" stroke="none" stroke-width="1" />
<polygon points="315.30,282.50 306.80,280.50 306.80,284.50" fill="#111" stroke="none" stroke-width="1" />
<text x="245.30" y="286.60" font-size="10.3" fill="#505050" text-anchor="start" textLength="16.8" lengthAdjust="spacingAndGlyphs" style="letter-spacing:1.0px">&quot;A&quot;</text>
<line x1="315.50" y1="279.50" x2="315.50" y2="359.00" stroke="#626262" stroke-width="1" />
<line x1="190.60" y1="305.50" x2="210.20" y2="305.50" stroke="#626262" stroke-width="1" />
<line x1="274.40" y1="305.50" x2="294.70" y2="305.50" stroke="#626262" stroke-width="1" />
<polygon points="190.60,305.50 199.10,303.50 199.10,307.50" fill="#111" stroke="none" stroke-width="1" />
<polygon points="294.70,305.50 286.20,303.50 286.20,307.50" fill="#111" stroke="none" stroke-width="1" />
<text x="214.70" y="308.30" font-size="10.5" fill="#000" text-anchor="start" textLength="8.3" lengthAdjust="spacingAndGlyphs" style="letter-spacing:1.0px">¤</text>
<text x="231.50" y="307.90" font-size="10.3" fill="#505050" text-anchor="start" textLength="23.7" lengthAdjust="spacingAndGlyphs" style="letter-spacing:1.0px">5.04</text>
<text x="222.90" y="319.50" font-size="10.3" fill="#505050" text-anchor="start" textLength="37.8" lengthAdjust="spacingAndGlyphs" style="letter-spacing:1.0px">[128.0]</text>
<line x1="294.50" y1="303.60" x2="294.50" y2="359.00" stroke="#626262" stroke-width="1" />
<line x1="190.60" y1="335.50" x2="248.70" y2="335.50" stroke="#626262" stroke-width="1" />
<polygon points="190.60,335.50 199.10,333.50 199.10,337.50" fill="#111" stroke="none" stroke-width="1" />
<polygon points="239.40,335.50 230.90,333.50 230.90,337.50" fill="#111" stroke="none" stroke-width="1" />
<line x1="239.50" y1="333.60" x2="239.50" y2="359.00" stroke="#626262" stroke-width="1" />
<text x="253.20" y="337.50" font-size="10.3" fill="#505050" text-anchor="start" textLength="23.3" lengthAdjust="spacingAndGlyphs" style="letter-spacing:1.0px">2.38</text>
<text x="253.20" y="348.80" font-size="10.3" fill="#505050" text-anchor="start" textLength="31.2" lengthAdjust="spacingAndGlyphs" style="letter-spacing:1.0px">[60.5]</text>
<line x1="155.50" y1="220.50" x2="190.60" y2="220.50" stroke="#626262" stroke-width="1" />
<polygon points="161.50,220.50 170.00,218.50 170.00,222.50" fill="#111" stroke="none" stroke-width="1" />
<polygon points="190.60,220.50 182.10,218.50 182.10,222.50" fill="#111" stroke="none" stroke-width="1" />
<line x1="161.50" y1="217.40" x2="161.50" y2="359.00" stroke="#626262" stroke-width="1" />
<text x="122.70" y="222.50" font-size="10.3" fill="#505050" text-anchor="start" textLength="22.3" lengthAdjust="spacingAndGlyphs" style="letter-spacing:1.0px">1.38</text>
<text x="121.60" y="234.10" font-size="10.3" fill="#505050" text-anchor="start" textLength="30.9" lengthAdjust="spacingAndGlyphs" style="letter-spacing:1.0px">[35.0]</text>
<line x1="152.40" y1="269.50" x2="161.50" y2="269.50" stroke="#626262" stroke-width="1" />
<line x1="176.50" y1="269.50" x2="191.50" y2="269.50" stroke="#626262" stroke-width="1" />
<polygon points="161.50,269.50 153.00,267.50 153.00,271.50" fill="#111" stroke="none" stroke-width="1" />
<polygon points="176.50,269.50 185.00,267.50 185.00,271.50" fill="#111" stroke="none" stroke-width="1" />
<line x1="176.50" y1="266.40" x2="176.50" y2="359.00" stroke="#626262" stroke-width="1" />
<text x="118.00" y="271.30" font-size="10.3" fill="#505050" text-anchor="start" textLength="18.0" lengthAdjust="spacingAndGlyphs" style="letter-spacing:1.0px">.70</text>
<text x="118.00" y="282.60" font-size="10.3" fill="#505050" text-anchor="start" textLength="30.9" lengthAdjust="spacingAndGlyphs" style="letter-spacing:1.0px">[17.7]</text>
<line x1="576.50" y1="183.90" x2="576.50" y2="349.50" stroke="#626262" stroke-width="1" />
<line x1="576.00" y1="186.50" x2="739.40" y2="186.50" stroke="#626262" stroke-width="1" />
<line x1="819.00" y1="186.50" x2="983.10" y2="186.50" stroke="#626262" stroke-width="1" />
<polygon points="576.00,186.50 584.50,184.50 584.50,188.50" fill="#111" stroke="none" stroke-width="1" />
<polygon points="983.10,186.50 974.60,184.50 974.60,188.50" fill="#111" stroke="none" stroke-width="1" />
<text x="743.80" y="189.60" font-size="10.8" fill="#505050" text-anchor="start" textLength="71.7" lengthAdjust="spacingAndGlyphs" style="letter-spacing:1.0px">SLIDE  LENGTH</text>
<line x1="983.50" y1="184.70" x2="983.50" y2="346.70" stroke="#626262" stroke-width="1" />
<line x1="604.50" y1="207.00" x2="604.50" y2="349.50" stroke="#626262" stroke-width="1" />
<line x1="604.60" y1="209.50" x2="700.30" y2="209.50" stroke="#626262" stroke-width="1" />
<line x1="764.20" y1="209.50" x2="865.10" y2="209.50" stroke="#626262" stroke-width="1" />
<polygon points="604.60,209.50 613.10,207.50 613.10,211.50" fill="#111" stroke="none" stroke-width="1" />
<polygon points="865.10,209.50 856.60,207.50 856.60,211.50" fill="#111" stroke="none" stroke-width="1" />
<rect x="706.20" y="205.20" width="6.30" height="6.30" fill="#000" stroke="none" stroke-width="1" />
<text x="718.50" y="210.50" font-size="10.3" fill="#505050" text-anchor="start" textLength="29.7" lengthAdjust="spacingAndGlyphs" style="letter-spacing:1.0px">18.90</text>
<text x="715.20" y="221.80" font-size="10.3" fill="#505050" text-anchor="start" textLength="38.9" lengthAdjust="spacingAndGlyphs" style="letter-spacing:1.0px">[480.0]</text>
<line x1="865.50" y1="207.00" x2="865.50" y2="349.50" stroke="#626262" stroke-width="1" />
<line x1="604.60" y1="234.50" x2="697.30" y2="234.50" stroke="#626262" stroke-width="1" />
<line x1="720.00" y1="234.50" x2="812.60" y2="234.50" stroke="#626262" stroke-width="1" />
<polygon points="604.60,234.50 613.10,232.50 613.10,236.50" fill="#111" stroke="none" stroke-width="1" />
<polygon points="812.60,234.50 804.10,232.50 804.10,236.50" fill="#111" stroke="none" stroke-width="1" />
<text x="701.40" y="238.30" font-size="10.3" fill="#505050" text-anchor="start" textLength="16.2" lengthAdjust="spacingAndGlyphs" style="letter-spacing:1.0px">&quot;E&quot;</text>
<line x1="812.50" y1="232.00" x2="812.50" y2="349.50" stroke="#626262" stroke-width="1" />
<line x1="604.60" y1="253.50" x2="652.10" y2="253.50" stroke="#626262" stroke-width="1" />
<line x1="714.30" y1="253.50" x2="760.50" y2="253.50" stroke="#626262" stroke-width="1" />
<polygon points="604.60,253.50 613.10,251.50 613.10,255.50" fill="#111" stroke="none" stroke-width="1" />
<polygon points="760.50,253.50 752.00,251.50 752.00,255.50" fill="#111" stroke="none" stroke-width="1" />
<text x="657.50" y="256.60" font-size="10.5" fill="#000" text-anchor="start" textLength="6.6" lengthAdjust="spacingAndGlyphs" style="letter-spacing:1.0px">¤</text>
<text x="671.50" y="257.10" font-size="10.3" fill="#505050" text-anchor="start" textLength="23.6" lengthAdjust="spacingAndGlyphs" style="letter-spacing:1.0px">8.82</text>
<text x="663.80" y="267.40" font-size="10.3" fill="#505050" text-anchor="start" textLength="38.7" lengthAdjust="spacingAndGlyphs" style="letter-spacing:1.0px">[224.0]</text>
<line x1="760.50" y1="251.00" x2="760.50" y2="349.50" stroke="#626262" stroke-width="1" />
<line x1="561.10" y1="285.50" x2="628.50" y2="285.50" stroke="#626262" stroke-width="1" />
<line x1="678.60" y1="285.50" x2="697.30" y2="285.50" stroke="#626262" stroke-width="1" />
<polygon points="576.00,285.50 584.50,283.50 584.50,287.50" fill="#111" stroke="none" stroke-width="1" />
<polygon points="604.60,285.50 596.10,283.50 596.10,287.50" fill="#111" stroke="none" stroke-width="1" />
<polygon points="604.60,285.50 613.10,283.50 613.10,287.50" fill="#111" stroke="none" stroke-width="1" />
<polygon points="697.30,285.50 688.80,283.50 688.80,287.50" fill="#111" stroke="none" stroke-width="1" />
<text x="528.10" y="286.80" font-size="10.3" fill="#505050" text-anchor="start" textLength="22.0" lengthAdjust="spacingAndGlyphs" style="letter-spacing:1.0px">1.38</text>
<text x="528.10" y="298.40" font-size="10.3" fill="#505050" text-anchor="start" textLength="31.0" lengthAdjust="spacingAndGlyphs" style="letter-spacing:1.0px">[35.1]</text>
<text x="643.50" y="287.20" font-size="10.3" fill="#505050" text-anchor="start" textLength="23.3" lengthAdjust="spacingAndGlyphs" style="letter-spacing:1.0px">5.04</text>
<text x="637.30" y="298.30" font-size="10.3" fill="#505050" text-anchor="start" textLength="37.9" lengthAdjust="spacingAndGlyphs" style="letter-spacing:1.0px">[128.0]</text>
<line x1="697.50" y1="282.20" x2="697.50" y2="349.50" stroke="#626262" stroke-width="1" />
<line x1="581.20" y1="330.50" x2="596.90" y2="330.50" stroke="#626262" stroke-width="1" />
<line x1="604.60" y1="330.50" x2="614.10" y2="330.50" stroke="#626262" stroke-width="1" />
<polygon points="596.90,330.50 588.40,328.50 588.40,332.50" fill="#111" stroke="none" stroke-width="1" />
<polygon points="604.60,330.50 613.10,328.50 613.10,332.50" fill="#111" stroke="none" stroke-width="1" />
<line x1="596.50" y1="328.40" x2="596.50" y2="353.50" stroke="#626262" stroke-width="1" />
<text x="618.60" y="332.70" font-size="10.3" fill="#505050" text-anchor="start" textLength="17.9" lengthAdjust="spacingAndGlyphs" style="letter-spacing:1.0px">.35</text>
<text x="618.60" y="343.10" font-size="10.3" fill="#505050" text-anchor="start" textLength="22.9" lengthAdjust="spacingAndGlyphs" style="letter-spacing:1.0px">[9.0]</text>
<text x="530.20" y="326.00" font-size="10.3" fill="#505050" text-anchor="start" textLength="23.8" lengthAdjust="spacingAndGlyphs" style="letter-spacing:1.0px">Ø.17</text>
<text x="530.20" y="339.50" font-size="10.3" fill="#505050" text-anchor="start" textLength="32.9" lengthAdjust="spacingAndGlyphs" style="letter-spacing:1.0px">[Ø4.3]</text>
<polyline points="565.50,323.30 574.90,323.30 584.00,366.00" fill="none" stroke="#626262" stroke-width="0.9" />
<polygon points="584.00,367.00 580.90,359.98 584.04,359.33" fill="#111" stroke="none" stroke-width="1" />
<line x1="745.30" y1="278.50" x2="760.50" y2="278.50" stroke="#626262" stroke-width="1" />
<line x1="771.40" y1="278.50" x2="786.10" y2="278.50" stroke="#626262" stroke-width="1" />
<polygon points="760.50,278.50 752.00,276.50 752.00,280.50" fill="#111" stroke="none" stroke-width="1" />
<polygon points="771.40,278.50 779.90,276.50 779.90,280.50" fill="#111" stroke="none" stroke-width="1" />
<line x1="771.50" y1="275.30" x2="771.50" y2="349.50" stroke="#626262" stroke-width="1" />
<text x="711.90" y="279.60" font-size="10.3" fill="#505050" text-anchor="start" textLength="16.6" lengthAdjust="spacingAndGlyphs" style="letter-spacing:1.0px">.50</text>
<text x="711.90" y="291.20" font-size="10.3" fill="#505050" text-anchor="start" textLength="31.3" lengthAdjust="spacingAndGlyphs" style="letter-spacing:1.0px">[12.7]</text>
<text x="711.90" y="304.10" font-size="10.3" fill="#505050" text-anchor="start" textLength="22.1" lengthAdjust="spacingAndGlyphs" style="letter-spacing:1.0px">TYP.</text>
<line x1="742.60" y1="319.50" x2="751.50" y2="319.50" stroke="#626262" stroke-width="1" />
<line x1="760.50" y1="319.50" x2="776.40" y2="319.50" stroke="#626262" stroke-width="1" />
<polygon points="751.50,319.50 743.00,317.50 743.00,321.50" fill="#111" stroke="none" stroke-width="1" />
<polygon points="760.50,319.50 769.00,317.50 769.00,321.50" fill="#111" stroke="none" stroke-width="1" />
<line x1="751.50" y1="316.90" x2="751.50" y2="349.50" stroke="#626262" stroke-width="1" />
<text x="708.30" y="321.50" font-size="10.3" fill="#505050" text-anchor="start" textLength="17.2" lengthAdjust="spacingAndGlyphs" style="letter-spacing:1.0px">.45</text>
<text x="708.30" y="333.00" font-size="10.3" fill="#505050" text-anchor="start" textLength="31.4" lengthAdjust="spacingAndGlyphs" style="letter-spacing:1.0px">[11.4]</text>
<text x="708.30" y="345.30" font-size="10.3" fill="#505050" text-anchor="start" textLength="22.2" lengthAdjust="spacingAndGlyphs" style="letter-spacing:1.0px">TYP.</text>
<line x1="954.80" y1="323.50" x2="976.80" y2="323.50" stroke="#626262" stroke-width="1" />
<line x1="983.10" y1="323.50" x2="998.70" y2="323.50" stroke="#626262" stroke-width="1" />
<polygon points="976.80,323.50 968.30,321.50 968.30,325.50" fill="#111" stroke="none" stroke-width="1" />
<polygon points="983.10,323.50 991.60,321.50 991.60,325.50" fill="#111" stroke="none" stroke-width="1" />
<line x1="976.50" y1="320.60" x2="976.50" y2="349.50" stroke="#626262" stroke-width="1" />
<text x="926.80" y="326.10" font-size="10.3" fill="#505050" text-anchor="start" textLength="17.2" lengthAdjust="spacingAndGlyphs" style="letter-spacing:1.0px">.33</text>
<text x="926.30" y="336.30" font-size="10.3" fill="#505050" text-anchor="start" textLength="25.9" lengthAdjust="spacingAndGlyphs" style="letter-spacing:1.0px">[8.4]</text>
<line x1="161.50" y1="387.50" x2="183.60" y2="387.50" stroke="#626262" stroke-width="1" />
<line x1="190.50" y1="387.50" x2="205.30" y2="387.50" stroke="#626262" stroke-width="1" />
<polygon points="183.60,387.50 175.10,385.50 175.10,389.50" fill="#111" stroke="none" stroke-width="1" />
<polygon points="190.50,387.50 199.00,385.50 199.00,389.50" fill="#111" stroke="none" stroke-width="1" />
<line x1="183.50" y1="378.00" x2="183.50" y2="427.30" stroke="#626262" stroke-width="1" />
<line x1="190.50" y1="378.00" x2="190.50" y2="390.00" stroke="#626262" stroke-width="1" />
<line x1="195.50" y1="378.00" x2="195.50" y2="427.30" stroke="#626262" stroke-width="1" />
<line x1="167.40" y1="425.50" x2="183.60" y2="425.50" stroke="#626262" stroke-width="1" />
<line x1="195.60" y1="425.50" x2="209.80" y2="425.50" stroke="#626262" stroke-width="1" />
<polygon points="183.60,425.50 175.10,423.50 175.10,427.50" fill="#111" stroke="none" stroke-width="1" />
<polygon points="195.60,425.50 204.10,423.50 204.10,427.50" fill="#111" stroke="none" stroke-width="1" />
<text x="134.30" y="389.80" font-size="10.3" fill="#505050" text-anchor="start" textLength="17.2" lengthAdjust="spacingAndGlyphs" style="letter-spacing:1.0px">.35</text>
<text x="134.30" y="400.40" font-size="10.3" fill="#505050" text-anchor="start" textLength="24.7" lengthAdjust="spacingAndGlyphs" style="letter-spacing:1.0px">[9.0]</text>
<text x="134.30" y="413.50" font-size="10.3" fill="#505050" text-anchor="start" textLength="22.2" lengthAdjust="spacingAndGlyphs" style="letter-spacing:1.0px">TYP.</text>
<text x="213.90" y="427.30" font-size="10.3" fill="#505050" text-anchor="start" textLength="17.6" lengthAdjust="spacingAndGlyphs" style="letter-spacing:1.0px">.62</text>
<text x="213.90" y="438.00" font-size="10.3" fill="#505050" text-anchor="start" textLength="31.6" lengthAdjust="spacingAndGlyphs" style="letter-spacing:1.0px">[15.9]</text>
<polyline points="288.90,370.00 295.80,404.60 305.70,404.60" fill="none" stroke="#626262" stroke-width="0.9" />
<polygon points="288.50,369.50 291.59,376.52 288.46,377.17" fill="#111" stroke="none" stroke-width="1" />
<text x="308.10" y="407.00" font-size="10.3" fill="#505050" text-anchor="start" textLength="31.6" lengthAdjust="spacingAndGlyphs" style="letter-spacing:1.0px">Ø.172</text>
<text x="308.10" y="419.20" font-size="10.3" fill="#505050" text-anchor="start" textLength="32.6" lengthAdjust="spacingAndGlyphs" style="letter-spacing:1.0px">[Ø4.4]</text>
<text x="308.10" y="432.30" font-size="10.3" fill="#505050" text-anchor="start" textLength="22.4" lengthAdjust="spacingAndGlyphs" style="letter-spacing:1.0px">TYP.</text>
<polyline points="357.00,372.00 360.00,400.70 369.80,400.70" fill="none" stroke="#626262" stroke-width="0.9" />
<polygon points="356.40,370.50 358.88,377.76 355.70,378.14" fill="#111" stroke="none" stroke-width="1" />
<text x="373.90" y="405.60" font-size="10.3" fill="#505050" text-anchor="start" textLength="59.6" lengthAdjust="spacingAndGlyphs" style="letter-spacing:1.0px">.172  X  .38</text>
<text x="373.90" y="417.20" font-size="10.3" fill="#505050" text-anchor="start" textLength="60.0" lengthAdjust="spacingAndGlyphs" style="letter-spacing:1.0px">[4.4  X  9.5]</text>
<text x="392.40" y="429.90" font-size="10.3" fill="#505050" text-anchor="start" textLength="21.4" lengthAdjust="spacingAndGlyphs" style="letter-spacing:1.0px">TYP.</text>
<line x1="575.50" y1="388.00" x2="575.50" y2="420.40" stroke="#626262" stroke-width="1" />
<line x1="584.50" y1="388.00" x2="584.50" y2="420.40" stroke="#626262" stroke-width="1" />
<line x1="596.50" y1="388.00" x2="596.50" y2="445.10" stroke="#626262" stroke-width="1" />
<line x1="614.50" y1="388.00" x2="614.50" y2="445.10" stroke="#626262" stroke-width="1" />
<line x1="624.50" y1="388.00" x2="624.50" y2="402.60" stroke="#626262" stroke-width="1" />
<line x1="547.40" y1="417.50" x2="575.60" y2="417.50" stroke="#626262" stroke-width="1" />
<line x1="584.50" y1="417.50" x2="599.70" y2="417.50" stroke="#626262" stroke-width="1" />
<polygon points="575.60,417.50 567.10,415.50 567.10,419.50" fill="#111" stroke="none" stroke-width="1" />
<polygon points="584.50,417.50 593.00,415.50 593.00,419.50" fill="#111" stroke="none" stroke-width="1" />
<text x="513.70" y="419.40" font-size="10.3" fill="#505050" text-anchor="start" textLength="16.8" lengthAdjust="spacingAndGlyphs" style="letter-spacing:1.0px">.42</text>
<text x="513.70" y="431.00" font-size="10.3" fill="#505050" text-anchor="start" textLength="30.8" lengthAdjust="spacingAndGlyphs" style="letter-spacing:1.0px">[10.7]</text>
<line x1="596.70" y1="399.50" x2="635.80" y2="399.50" stroke="#626262" stroke-width="1" />
<polygon points="596.70,399.50 605.20,397.50 605.20,401.50" fill="#111" stroke="none" stroke-width="1" />
<polygon points="624.40,399.50 615.90,397.50 615.90,401.50" fill="#111" stroke="none" stroke-width="1" />
<text x="640.70" y="401.70" font-size="10.3" fill="#505050" text-anchor="start" textLength="22.8" lengthAdjust="spacingAndGlyphs" style="letter-spacing:1.0px">1.35</text>
<text x="640.70" y="413.30" font-size="10.3" fill="#505050" text-anchor="start" textLength="30.6" lengthAdjust="spacingAndGlyphs" style="letter-spacing:1.0px">[34.3]</text>
<line x1="581.00" y1="443.50" x2="596.70" y2="443.50" stroke="#626262" stroke-width="1" />
<line x1="614.50" y1="443.50" x2="637.20" y2="443.50" stroke="#626262" stroke-width="1" />
<polygon points="596.70,443.50 588.20,441.50 588.20,445.50" fill="#111" stroke="none" stroke-width="1" />
<polygon points="614.50,443.50 623.00,441.50 623.00,445.50" fill="#111" stroke="none" stroke-width="1" />
<text x="641.70" y="445.10" font-size="10.3" fill="#505050" text-anchor="start" textLength="17.8" lengthAdjust="spacingAndGlyphs" style="letter-spacing:1.0px">.85</text>
<text x="641.70" y="455.70" font-size="10.3" fill="#505050" text-anchor="start" textLength="31.2" lengthAdjust="spacingAndGlyphs" style="letter-spacing:1.0px">[21.6]</text>
<polyline points="771.00,370.00 754.00,402.00 744.80,402.00" fill="none" stroke="#626262" stroke-width="0.9" />
<polygon points="771.00,369.50 768.94,376.89 766.11,375.40" fill="#111" stroke="none" stroke-width="1" />
<text x="709.10" y="405.00" font-size="10.3" fill="#505050" text-anchor="start" textLength="31.2" lengthAdjust="spacingAndGlyphs" style="letter-spacing:1.0px">Ø.180</text>
<text x="709.10" y="417.80" font-size="10.3" fill="#505050" text-anchor="start" textLength="32.6" lengthAdjust="spacingAndGlyphs" style="letter-spacing:1.0px">[Ø4.6]</text>
<text x="709.10" y="430.90" font-size="10.3" fill="#505050" text-anchor="start" textLength="21.9" lengthAdjust="spacingAndGlyphs" style="letter-spacing:1.0px">TYP.</text>
<polyline points="815.20,370.00 823.10,399.70 832.00,399.70" fill="none" stroke="#626262" stroke-width="0.9" />
<polygon points="814.60,369.50 818.17,376.29 815.09,377.15" fill="#111" stroke="none" stroke-width="1" />
<text x="835.50" y="402.00" font-size="10.3" fill="#505050" text-anchor="start" textLength="24.7" lengthAdjust="spacingAndGlyphs" style="letter-spacing:1.0px">Ø.25</text>
<text x="835.50" y="414.80" font-size="10.3" fill="#505050" text-anchor="start" textLength="32.6" lengthAdjust="spacingAndGlyphs" style="letter-spacing:1.0px">[Ø6.4]</text>
<text x="835.50" y="427.30" font-size="10.3" fill="#505050" text-anchor="start" textLength="22.0" lengthAdjust="spacingAndGlyphs" style="letter-spacing:1.0px">TYP.</text>
<text x="892.50" y="404.40" font-size="10.3" fill="#505050" text-anchor="start" textLength="52.8" lengthAdjust="spacingAndGlyphs" style="letter-spacing:1.0px">.18  X  .22</text>
<text x="892.50" y="415.90" font-size="10.3" fill="#505050" text-anchor="start" textLength="60.5" lengthAdjust="spacingAndGlyphs" style="letter-spacing:1.0px">[4.6  X  5.6]</text>
<polyline points="954.80,400.30 964.40,400.30 978.10,372.00" fill="none" stroke="#626262" stroke-width="0.9" />
<polygon points="978.30,370.50 976.58,377.97 973.68,376.62" fill="#111" stroke="none" stroke-width="1" />
<line x1="66.50" y1="351.50" x2="82.20" y2="351.50" stroke="#626262" stroke-width="1" />
<line x1="99.80" y1="351.50" x2="117.50" y2="351.50" stroke="#626262" stroke-width="1" />
<polygon points="82.20,351.50 73.70,349.50 73.70,353.50" fill="#111" stroke="none" stroke-width="1" />
<polygon points="99.80,351.50 108.30,349.50 108.30,353.50" fill="#111" stroke="none" stroke-width="1" />
<line x1="82.50" y1="347.00" x2="82.50" y2="362.00" stroke="#626262" stroke-width="1" />
<line x1="99.50" y1="347.00" x2="99.50" y2="362.00" stroke="#626262" stroke-width="1" />
<text x="80.30" y="331.50" font-size="10.3" fill="#1a1a1a" text-anchor="start" textLength="15.6" lengthAdjust="spacingAndGlyphs" style="letter-spacing:0.4px">.50</text>
<text x="80.30" y="343.20" font-size="10.3" fill="#1a1a1a" text-anchor="start" textLength="24.8" lengthAdjust="spacingAndGlyphs" style="letter-spacing:0.4px">[12.7]</text>
<line x1="59.50" y1="362.50" x2="59.50" y2="392.00" stroke="#626262" stroke-width="1" />
<line x1="59.50" y1="413.50" x2="59.50" y2="433.70" stroke="#626262" stroke-width="1" />
<polygon points="59.50,362.50 57.50,371.00 61.50,371.00" fill="#111" stroke="none" stroke-width="1" />
<polygon points="59.50,433.70 57.50,425.20 61.50,425.20" fill="#111" stroke="none" stroke-width="1" />
<line x1="57.80" y1="362.50" x2="82.50" y2="362.50" stroke="#626262" stroke-width="1" />
<line x1="57.80" y1="434.50" x2="82.50" y2="434.50" stroke="#626262" stroke-width="1" />
<text x="50.10" y="400.00" font-size="10.3" fill="#1a1a1a" text-anchor="start" textLength="19.1" lengthAdjust="spacingAndGlyphs" style="letter-spacing:0.4px">1.80</text>
<text x="45.40" y="410.30" font-size="10.3" fill="#1a1a1a" text-anchor="start" textLength="26.1" lengthAdjust="spacingAndGlyphs" style="letter-spacing:0.4px">[45.7]</text>
<line x1="71.00" y1="398.50" x2="77.30" y2="398.50" stroke="#626262" stroke-width="1" />
<line x1="106.70" y1="398.50" x2="117.50" y2="398.50" stroke="#626262" stroke-width="1" />
<rect x="59.20" y="480.00" width="5.60" height="5.50" fill="#000" stroke="none" stroke-width="1" />
<text x="71.60" y="485.70" font-size="12.5" fill="#000" text-anchor="start" textLength="174.6" lengthAdjust="spacingAndGlyphs" >Available on 26&quot; and 28&quot; length</text>
<text x="262.90" y="485.70" font-size="12.5" fill="#000" text-anchor="start" >¤</text>
<text x="276.00" y="485.70" font-size="12.5" fill="#000" text-anchor="start" textLength="149.4" lengthAdjust="spacingAndGlyphs" >Not available on 14&quot; length</text>
<text x="460.30" y="485.70" font-size="12.5" fill="#000" text-anchor="start" >+</text>
<text x="474.40" y="485.70" font-size="12.5" fill="#000" text-anchor="start" textLength="165.0" lengthAdjust="spacingAndGlyphs" >Only available on 16&quot; and 28&quot;</text>
<g>
<path d="M84.0,362.6 L99.2,362.6 Q100.3,362.6 100.3,363.8 L100.3,433.0 Q100.3,434.1 99.2,434.1 L84.0,434.1 Q82.6,434.1 82.6,432.6 L82.6,364.0 Q82.6,362.6 84.0,362.6 Z" fill="none" stroke="#555" stroke-width="1.0" />
<rect x="82.70" y="362.80" width="1.40" height="71.00" fill="#aaa" stroke="none" stroke-width="1" />
<rect x="84.20" y="363.20" width="15.50" height="0.90" fill="#bbb" stroke="none" stroke-width="1" />
<rect x="84.20" y="432.60" width="15.50" height="0.90" fill="#bbb" stroke="none" stroke-width="1" />
<path d="M87.5,383.4 Q85.2,383.6 85.2,386 L85.2,410.6 Q85.2,413 87.5,413.2" fill="none" stroke="#333" stroke-width="0.9" />
<path d="M85,364.8 L97.9,364.8 L97.9,370.6 L85.2,371.2 L85.2,369.2 L91.8,369.2 L91.8,366.8 L85.2,366.8 Z" fill="none" stroke="#222" stroke-width="0.9" />
<rect x="85.60" y="367.20" width="5.80" height="1.60" fill="#999" stroke="none" stroke-width="1" />
<path d="M86.5,383 L86.5,373.2 L99.6,373.4 Q100.2,375.5 98.6,376.6 L91,376.6 Q89.4,377 89.4,379 L89.4,380.6 Q92,378.6 95,379.5 Q98,381 99.8,380" fill="none" stroke="#222" stroke-width="1.0" />
<path d="M89.8,379.5 Q93,382.2 98.5,381.6" fill="none" stroke="#444" stroke-width="0.9" />
<rect x="87.00" y="374.00" width="1.50" height="7.50" fill="#888" stroke="none" stroke-width="1" />
<path d="M85,431.99999999999994 L97.9,431.99999999999994 L97.9,426.19999999999993 L85.2,425.59999999999997 L85.2,427.59999999999997 L91.8,427.59999999999997 L91.8,429.99999999999994 L85.2,429.99999999999994 Z" fill="none" stroke="#222" stroke-width="0.9" />
<rect x="85.60" y="428.00" width="5.80" height="1.60" fill="#999" stroke="none" stroke-width="1" />
<path d="M86.5,413.79999999999995 L86.5,423.59999999999997 L99.6,423.4 Q100.2,421.29999999999995 98.6,420.19999999999993 L91,420.19999999999993 Q89.4,419.79999999999995 89.4,417.79999999999995 L89.4,416.19999999999993 Q92,418.19999999999993 95,417.29999999999995 Q98,415.79999999999995 99.8,416.79999999999995" fill="none" stroke="#222" stroke-width="1.0" />
<path d="M89.8,417.29999999999995 Q93,414.59999999999997 98.5,415.19999999999993" fill="none" stroke="#444" stroke-width="0.9" />
<rect x="87.00" y="414.80" width="1.50" height="7.50" fill="#888" stroke="none" stroke-width="1" />
<path d="M87.5,383.4 L97.9,383.4 M87.5,413.2 L97.9,413.2" fill="none" stroke="#333" stroke-width="0.9" />
<line x1="97.50" y1="383.00" x2="97.50" y2="413.60" stroke="#333" stroke-width="0.9" />
<line x1="84.00" y1="398.50" x2="106.70" y2="398.50" stroke="#333" stroke-width="0.7" />
<circle cx="97.9" cy="398.3" r="1.0" fill="#333"/>
</g>
</svg>
</body></html>
